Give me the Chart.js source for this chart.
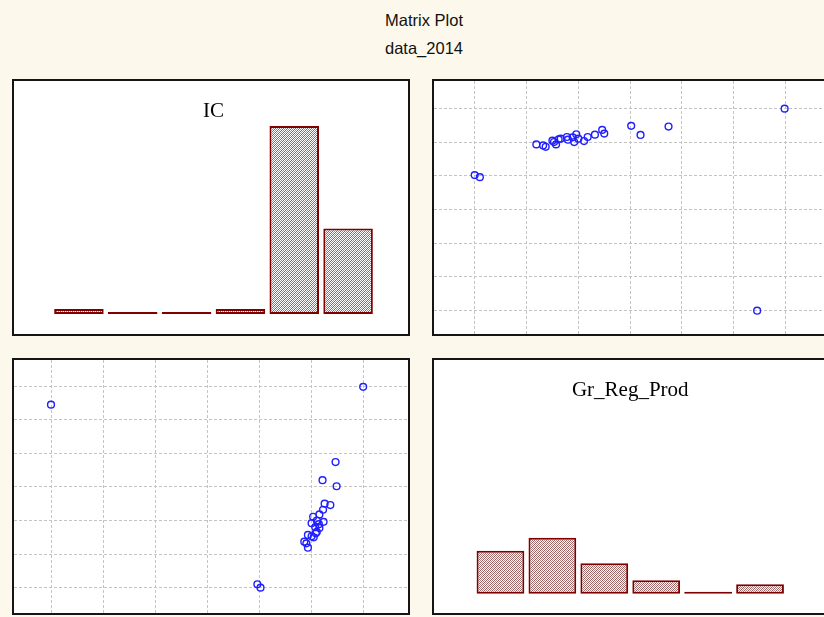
<!DOCTYPE html>
<html>
<head>
<meta charset="utf-8">
<title>Matrix Plot</title>
<script src="https://cdn.jsdelivr.net/npm/chart.js@4.4.0/dist/chart.umd.min.js"></script>
<style>
  html, body { margin: 0; padding: 0; }
  body {
    width: 824px; height: 617px; overflow: hidden; position: relative;
    background: #fdf8ec;
    font-family: "Liberation Sans", Arial, sans-serif;
  }
  .hdr { position: absolute; left: 0; width: 848px; text-align: center; font-size: 16.5px; line-height: 18px; color: #111; }
  .panel { position: absolute; width: 394px; height: 253px; border: 2px solid #151515; background: #fff; }
  .panel canvas { display: block; }
</style>
</head>
<body>
<div class="hdr" style="top:11px">Matrix Plot</div>
<div class="hdr" style="top:39px">data_2014</div>

<div class="panel" style="left:12px; top:79px"><canvas id="icHist" width="394" height="253"></canvas></div>
<div class="panel" style="left:432px; top:79px"><canvas id="icVsGrp" width="394" height="253"></canvas></div>
<div class="panel" style="left:12px; top:358px"><canvas id="grpVsIc" width="394" height="253"></canvas></div>
<div class="panel" style="left:432px; top:358px"><canvas id="grpHist" width="394" height="253"></canvas></div>

<script>
// ── data ──
const icBins = ['1', '2', '3', '4', '5', '6'];
const icCounts = [1, 0, 0, 1, 38, 17.3];

const grpBins = ['1', '2', '3', '4', '5', '6'];
const grpCounts = [9.2, 12, 6.5, 2.9, 0, 2];

// one entry per observation (same order in both lists)
const icVals  = [4.02, 3.96, 4.93, 4.90, 4.86, 5.04, 5.00, 4.93, 5.08, 5.10, 5.15, 5.07, 5.14,
                 5.00, 5.23, 5.10, 5.03, 5.15, 5.22, 5.36, 5.25, 5.48, 5.21, 5.46, 5.99, 0.00];
const grpVals = [0.00, 0.10, 1.19, 1.32, 1.37, 1.50, 1.53, 1.57, 1.62, 1.66, 1.78, 1.80, 1.89,
                 1.92, 1.96, 2.00, 2.11, 2.18, 2.32, 2.46, 2.50, 3.02, 3.20, 3.74, 5.98, 5.45];

const icTicks  = [0, 1, 2, 3, 4, 5, 6];
const grpTicks = [0, 1, 2, 3, 4, 5, 6];

// ── shared look ──
const barRed = '#800000';
const gridGray = '#c4c4c4';
const pointBlue = '#1f1fff';
const titleFont = { family: '"Liberation Serif", "Times New Roman", serif', size: 21, weight: 'normal' };

Chart.defaults.animation = false;
Chart.defaults.responsive = false;
Chart.defaults.plugins.legend.display = false;
Chart.defaults.plugins.tooltip.enabled = false;

// fine woven fill like the original bars
function hatchPattern() {
    const c = document.createElement('canvas');
    c.width = 4; c.height = 4;
    const g = c.getContext('2d');
    g.fillStyle = '#ffffff';
    g.fillRect(0, 0, 4, 4);
    for (let y = 0; y < 4; y++) {
        for (let x = 0; x < 4; x++) {
            if ((x + y) % 2 === 0) {
                g.fillStyle = (x + y) % 4 === 0 ? 'rgba(125,25,25,0.72)' : 'rgba(115,60,60,0.62)';
                g.fillRect(x, y, 1, 1);
            }
        }
    }
    return g.createPattern(c, 'repeat');
}
const hatch = hatchPattern();

function histogram(id, title, labels, counts, yMax, pad) {
    return new Chart(document.getElementById(id), {
        type: 'bar',
        data: {
            labels: labels,
            datasets: [{
                data: counts,
                backgroundColor: hatch,
                borderColor: barRed,
                borderWidth: 2,
                borderSkipped: false,
                minBarLength: 2,
                categoryPercentage: 0.92,
                barPercentage: 1.0,
                clip: false
            }]
        },
        options: {
            layout: { padding: pad },
            plugins: {
                title: { display: true, text: title, font: titleFont, color: '#000', padding: { top: 18, bottom: 0 } }
            },
            scales: {
                x: { display: false },
                y: { display: false, min: 0, max: yMax }
            }
        }
    });
}

function gridAxis(ticks, min, max) {
    return {
        type: 'linear', min: min, max: max,
        afterBuildTicks: axis => { axis.ticks = ticks.map(v => ({ value: v })); },
        ticks: { display: false },
        grid: { color: gridGray, lineWidth: 1, drawTicks: false },
        border: { display: false, dash: [3, 2] }
    };
}

function scatter(id, xs, ys, xTicks, yTicks, xRange, yRange) {
    return new Chart(document.getElementById(id), {
        type: 'scatter',
        data: {
            datasets: [{
                data: xs.map((v, i) => ({ x: v, y: ys[i] })),
                pointStyle: 'circle',
                pointRadius: 3.4,
                borderWidth: 1.4,
                borderColor: pointBlue,
                backgroundColor: 'rgba(255,255,255,0)'
            }]
        },
        options: {
            layout: { padding: 0, autoPadding: false },
            scales: {
                x: gridAxis(xTicks, xRange[0], xRange[1]),
                y: gridAxis(yTicks, yRange[0], yRange[1])
            }
        }
    });
}

// diagonal: histograms
histogram('icHist', 'IC', icBins, icCounts, 38.37, { left: 38, right: 33, bottom: 20, top: 0 });
histogram('grpHist', 'Gr_Reg_Prod', grpBins, grpCounts, 40.8, { left: 40.5, right: 42, bottom: 19.3, top: 0 });

// off-diagonal: IC vs Gr_Reg_Prod and the transpose
scatter('icVsGrp', grpVals, icVals, grpTicks, icTicks, [-0.785, 6.817], [-0.69, 6.81]);
scatter('grpVsIc', icVals, grpVals, icTicks, grpTicks, [-0.71, 6.85], [-0.755, 6.78]);
</script>
</body>
</html>
